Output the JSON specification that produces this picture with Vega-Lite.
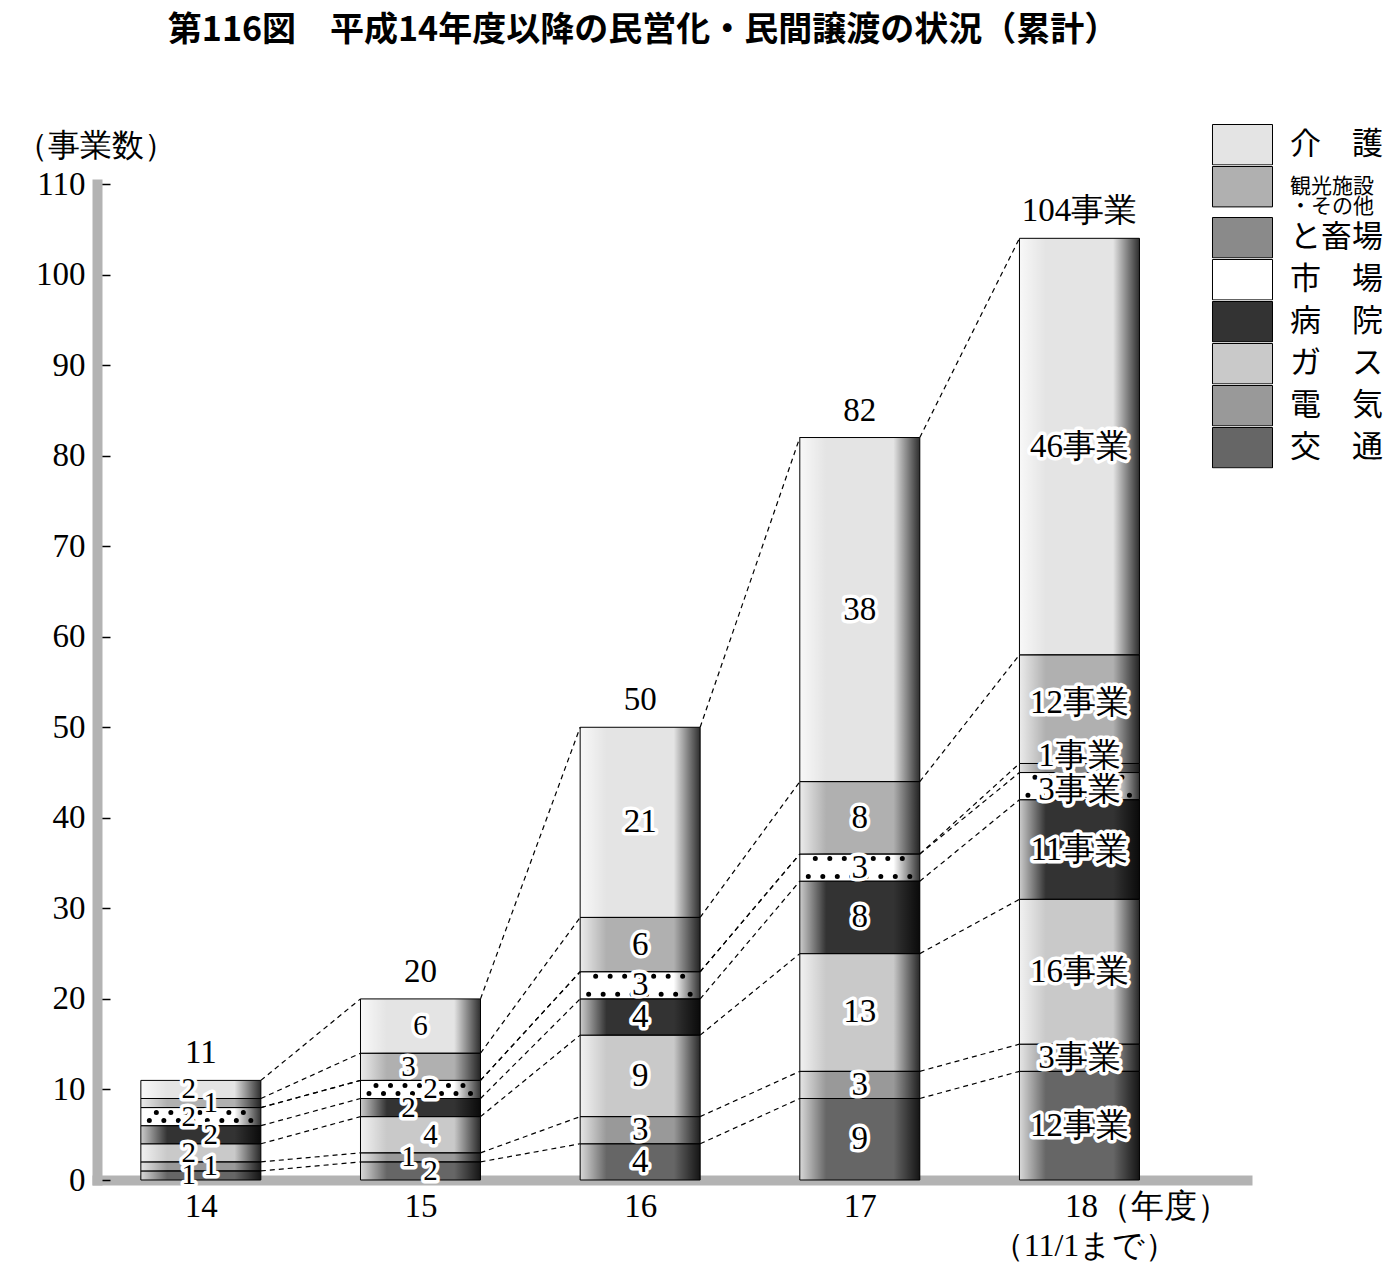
{
  "$schema": "https://vega.github.io/schema/vega-lite/v6.json",
  "autosize": {"type": "none"},
  "width": 1150,
  "height": 996,
  "padding": {"left": 97, "top": 184, "right": 153, "bottom": 95},
  "background": "white",
  "title": {
    "text": "第116図　平成14年度以降の民営化・民間譲渡の状況（累計）",
    "font": "Noto Sans CJK JP",
    "fontSize": 34,
    "fontWeight": "bold",
    "color": "black",
    "anchor": "middle",
    "frame": "group",
    "dx": -29,
    "dy": -72
  },
  "data": {
    "values": [
      {"year": 14, "cat": "交通", "k": 1, "n": 1},
      {"year": 14, "cat": "電気", "k": 2, "n": 1},
      {"year": 14, "cat": "ガス", "k": 3, "n": 2},
      {"year": 14, "cat": "病院", "k": 4, "n": 2},
      {"year": 14, "cat": "市場", "k": 5, "n": 2},
      {"year": 14, "cat": "と畜場", "k": 6, "n": 0},
      {"year": 14, "cat": "観光施設・その他", "k": 7, "n": 1},
      {"year": 14, "cat": "介護", "k": 8, "n": 2},
      {"year": 15, "cat": "交通", "k": 1, "n": 2},
      {"year": 15, "cat": "電気", "k": 2, "n": 1},
      {"year": 15, "cat": "ガス", "k": 3, "n": 4},
      {"year": 15, "cat": "病院", "k": 4, "n": 2},
      {"year": 15, "cat": "市場", "k": 5, "n": 2},
      {"year": 15, "cat": "と畜場", "k": 6, "n": 0},
      {"year": 15, "cat": "観光施設・その他", "k": 7, "n": 3},
      {"year": 15, "cat": "介護", "k": 8, "n": 6},
      {"year": 16, "cat": "交通", "k": 1, "n": 4},
      {"year": 16, "cat": "電気", "k": 2, "n": 3},
      {"year": 16, "cat": "ガス", "k": 3, "n": 9},
      {"year": 16, "cat": "病院", "k": 4, "n": 4},
      {"year": 16, "cat": "市場", "k": 5, "n": 3},
      {"year": 16, "cat": "と畜場", "k": 6, "n": 0},
      {"year": 16, "cat": "観光施設・その他", "k": 7, "n": 6},
      {"year": 16, "cat": "介護", "k": 8, "n": 21},
      {"year": 17, "cat": "交通", "k": 1, "n": 9},
      {"year": 17, "cat": "電気", "k": 2, "n": 3},
      {"year": 17, "cat": "ガス", "k": 3, "n": 13},
      {"year": 17, "cat": "病院", "k": 4, "n": 8},
      {"year": 17, "cat": "市場", "k": 5, "n": 3},
      {"year": 17, "cat": "と畜場", "k": 6, "n": 0},
      {"year": 17, "cat": "観光施設・その他", "k": 7, "n": 8},
      {"year": 17, "cat": "介護", "k": 8, "n": 38},
      {"year": 18, "cat": "交通", "k": 1, "n": 12},
      {"year": 18, "cat": "電気", "k": 2, "n": 3},
      {"year": 18, "cat": "ガス", "k": 3, "n": 16},
      {"year": 18, "cat": "病院", "k": 4, "n": 11},
      {"year": 18, "cat": "市場", "k": 5, "n": 3},
      {"year": 18, "cat": "と畜場", "k": 6, "n": 1},
      {"year": 18, "cat": "観光施設・その他", "k": 7, "n": 12},
      {"year": 18, "cat": "介護", "k": 8, "n": 46}
    ]
  },
  "transform": [
    {"stack": "n", "groupby": ["year"], "sort": [{"field": "k", "order": "ascending"}], "as": ["y0", "y1"]}
  ],
  "layer": [
    {
      "transform": [{"filter": "datum.n > 0"}],
      "mark": {"type": "bar", "width": 120, "strokeWidth": 0, "opacity": 1},
      "encoding": {
        "x": {
          "field": "year", "type": "quantitative",
          "scale": {"domain": [13.55, 18.74], "nice": false, "zero": false},
          "axis": {
            "title": "（11/1まで）",
            "titleX": 987, "titleY": 65,
            "titleAlign": "center", "titleBaseline": "middle",
            "titleFont": "Liberation Serif", "titleFontSize": 32, "titleFontWeight": "normal", "titleColor": "black",
            "values": [14, 15, 16, 17, 18],
            "format": "d",
            "labelExpr": "datum.value == 18 ? '18（年度）' : datum.label",
            "labelAlign": {"condition": {"test": "datum.value == 18", "value": "left"}, "value": "center"},
            "labelOffset": {"condition": {"test": "datum.value == 18", "value": -15}, "value": 0},
            "labelFont": "Liberation Serif", "labelFontSize": 33, "labelColor": "black", "labelPadding": 10,
            "ticks": false, "grid": false,
            "domainColor": "#b3b3b3", "domainWidth": 10, "domainCap": "square"
          }
        },
        "y": {
          "field": "y0", "type": "quantitative",
          "scale": {"domain": [0, 110], "nice": false},
          "axis": {
            "title": "（事業数）",
            "titleAngle": 0, "titleX": -82, "titleY": -39,
            "titleAlign": "left", "titleBaseline": "middle",
            "titleFont": "Liberation Serif", "titleFontSize": 32, "titleFontWeight": "normal", "titleColor": "black",
            "values": [0, 10, 20, 30, 40, 50, 60, 70, 80, 90, 100, 110],
            "labelFont": "Liberation Serif", "labelFontSize": 33, "labelColor": "black", "labelPadding": 25,
            "tickSize": -13, "tickColor": "black", "tickWidth": 1.5,
            "grid": false,
            "domainColor": "#b3b3b3", "domainWidth": 10, "domainCap": "square"
          }
        },
        "y2": {"field": "y1"},
        "color": {
          "field": "cat", "type": "nominal",
          "scale": {
            "domain": ["介護", "観光施設・その他", "と畜場", "市場", "病院", "ガス", "電気", "交通"],
            "range": ["#e4e4e4", "#b0b0b0", "#8a8a8a", "#ffffff", "#333333", "#c9c9c9", "#999999", "#666666"]
          },
          "legend": {
            "orient": "none", "legendX": 1114, "legendY": -60,
            "title": null, "padding": 0, "rowPadding": 0,
            "clipHeight": 41.4,
            "symbolType": "M -1.667 -1.122 H 1.667 V 1.122 H -1.667 Z",
            "symbolSize": 1296,
            "symbolOffset": 13,
            "symbolStrokeColor": "black", "symbolStrokeWidth": 1, "symbolOpacity": 1,
            "labelFont": "Noto Sans CJK JP",
            "labelFontSize": {"expr": "datum.value == '観光施設・その他' ? 21 : 31"},
            "labelColor": "black",
            "labelOffset": 29,
            "labelLimit": 200,
            "labelExpr": "datum.value == '観光施設・その他' ? ['観光施設', '・その他'] : (length(datum.label) == 2 ? slice(datum.label, 0, 1) + '　' + slice(datum.label, 1) : datum.label)"
          }
        }
      }
    },
    {
      "transform": [{"filter": "datum.n > 0"}],
      "mark": {
        "type": "bar", "width": 120, "stroke": "black", "strokeWidth": 1,
        "fill": {"gradient": "linear", "x1": 0, "y1": 0, "x2": 1, "y2": 0, "stops": [
          {"offset": 0, "color": "rgba(255,255,255,0.75)"},
          {"offset": 0.22, "color": "rgba(255,255,255,0)"},
          {"offset": 0.78, "color": "rgba(0,0,0,0)"},
          {"offset": 1, "color": "rgba(0,0,0,0.8)"}
        ]}
      },
      "encoding": {
        "x": {"field": "year", "type": "quantitative"},
        "y": {"field": "y0", "type": "quantitative"},
        "y2": {"field": "y1"}
      }
    },
    {
      "transform": [
        {"fold": ["y0", "y1"], "as": ["edge", "pos"]},
        {"aggregate": [{"op": "mean", "field": "pos", "as": "ym"}], "groupby": ["year", "cat", "n", "k"]},
        {"filter": "datum.cat == '市場'"}
      ],
      "mark": {"type": "rule", "color": "black", "strokeWidth": 5, "strokeCap": "round", "strokeDash": [0, 14.5], "strokeDashOffset": 4, "xOffset": -55, "x2Offset": 55, "yOffset": {"expr": "datum.n >= 3 ? -9 : -4"}, "y2Offset": {"expr": "datum.n >= 3 ? -9 : -4"}},
      "encoding": {
        "x": {"field": "year", "type": "quantitative"},
        "x2": {"field": "year"},
        "y": {"field": "ym", "type": "quantitative"},
        "y2": {"field": "ym"}
      }
    },
    {
      "transform": [
        {"fold": ["y0", "y1"], "as": ["edge", "pos"]},
        {"aggregate": [{"op": "mean", "field": "pos", "as": "ym"}], "groupby": ["year", "cat", "n", "k"]},
        {"filter": "datum.cat == '市場'"}
      ],
      "mark": {"type": "rule", "color": "black", "strokeWidth": 5, "strokeCap": "round", "strokeDash": [0, 14.5], "strokeDashOffset": 11, "xOffset": -55, "x2Offset": 55, "yOffset": {"expr": "datum.n >= 3 ? 9 : 4"}, "y2Offset": {"expr": "datum.n >= 3 ? 9 : 4"}},
      "encoding": {
        "x": {"field": "year", "type": "quantitative"},
        "x2": {"field": "year"},
        "y": {"field": "ym", "type": "quantitative"},
        "y2": {"field": "ym"}
      }
    },
    {
      "transform": [
        {"window": [{"op": "lead", "field": "y1", "as": "ny1"}, {"op": "lead", "field": "year", "as": "nyear"}], "groupby": ["cat"], "sort": [{"field": "year", "order": "ascending"}]},
        {"filter": "datum.nyear != null"}
      ],
      "mark": {"type": "rule", "color": "black", "strokeWidth": 1.2, "strokeDash": [5, 4], "xOffset": 60, "x2Offset": -60},
      "encoding": {
        "x": {"field": "year", "type": "quantitative"},
        "x2": {"field": "nyear"},
        "y": {"field": "y1", "type": "quantitative"},
        "y2": {"field": "ny1"}
      }
    },
    {
      "transform": [
        {"fold": ["y0", "y1"], "as": ["edge", "pos"]},
        {"aggregate": [{"op": "mean", "field": "pos", "as": "ym"}], "groupby": ["year", "cat", "n", "k"]},
        {"filter": "datum.n > 0"}
      ],
      "mark": {
        "type": "text", "font": "Liberation Serif",
        "fontSize": {"expr": "datum.year <= 15 ? 29 : 33"},
        "fill": "white", "stroke": "white", "strokeWidth": 7, "strokeJoin": "round",
        "baseline": "middle", "align": "center",
        "text": {"expr": "datum.year == 18 ? datum.n + '事業' : '' + datum.n"},
        "dx": {"expr": "datum.year == 14 ? (indexof(['観光施設・その他', '病院', '電気'], datum.cat) >= 0 ? 10 : -12) : datum.year == 15 ? (datum.cat == '介護' ? 0 : indexof(['観光施設・その他', '病院', '電気'], datum.cat) >= 0 ? -12 : 10) : 0"},
        "dy": {"expr": "datum.year == 18 && datum.cat == 'と畜場' ? -12 : (datum.year == 18 && datum.cat == '観光施設・その他' ? -6 : (datum.year == 18 && datum.cat == '市場' ? 4 : 0))"}
      },
      "encoding": {
        "x": {"field": "year", "type": "quantitative"},
        "y": {"field": "ym", "type": "quantitative"}
      }
    },
    {
      "transform": [
        {"fold": ["y0", "y1"], "as": ["edge", "pos"]},
        {"aggregate": [{"op": "mean", "field": "pos", "as": "ym"}], "groupby": ["year", "cat", "n", "k"]},
        {"filter": "datum.n > 0"}
      ],
      "mark": {
        "type": "text", "font": "Liberation Serif",
        "fontSize": {"expr": "datum.year <= 15 ? 29 : 33"},
        "fill": "black",
        "baseline": "middle", "align": "center",
        "text": {"expr": "datum.year == 18 ? datum.n + '事業' : '' + datum.n"},
        "dx": {"expr": "datum.year == 14 ? (indexof(['観光施設・その他', '病院', '電気'], datum.cat) >= 0 ? 10 : -12) : datum.year == 15 ? (datum.cat == '介護' ? 0 : indexof(['観光施設・その他', '病院', '電気'], datum.cat) >= 0 ? -12 : 10) : 0"},
        "dy": {"expr": "datum.year == 18 && datum.cat == 'と畜場' ? -12 : (datum.year == 18 && datum.cat == '観光施設・その他' ? -6 : (datum.year == 18 && datum.cat == '市場' ? 4 : 0))"}
      },
      "encoding": {
        "x": {"field": "year", "type": "quantitative"},
        "y": {"field": "ym", "type": "quantitative"}
      }
    },
    {
      "transform": [
        {"aggregate": [{"op": "sum", "field": "n", "as": "tot"}], "groupby": ["year"]}
      ],
      "mark": {
        "type": "text", "font": "Liberation Serif", "fontSize": 33, "fill": "black",
        "baseline": "middle", "align": "center", "dy": -27,
        "text": {"expr": "datum.year == 18 ? datum.tot + '事業' : '' + datum.tot"}
      },
      "encoding": {
        "x": {"field": "year", "type": "quantitative"},
        "y": {"field": "tot", "type": "quantitative"}
      }
    }
  ],
  "config": {
    "view": {"stroke": null},
    "axis": {"grid": false},
    "style": {"guide-label": {"lineHeight": 20}}
  }
}
